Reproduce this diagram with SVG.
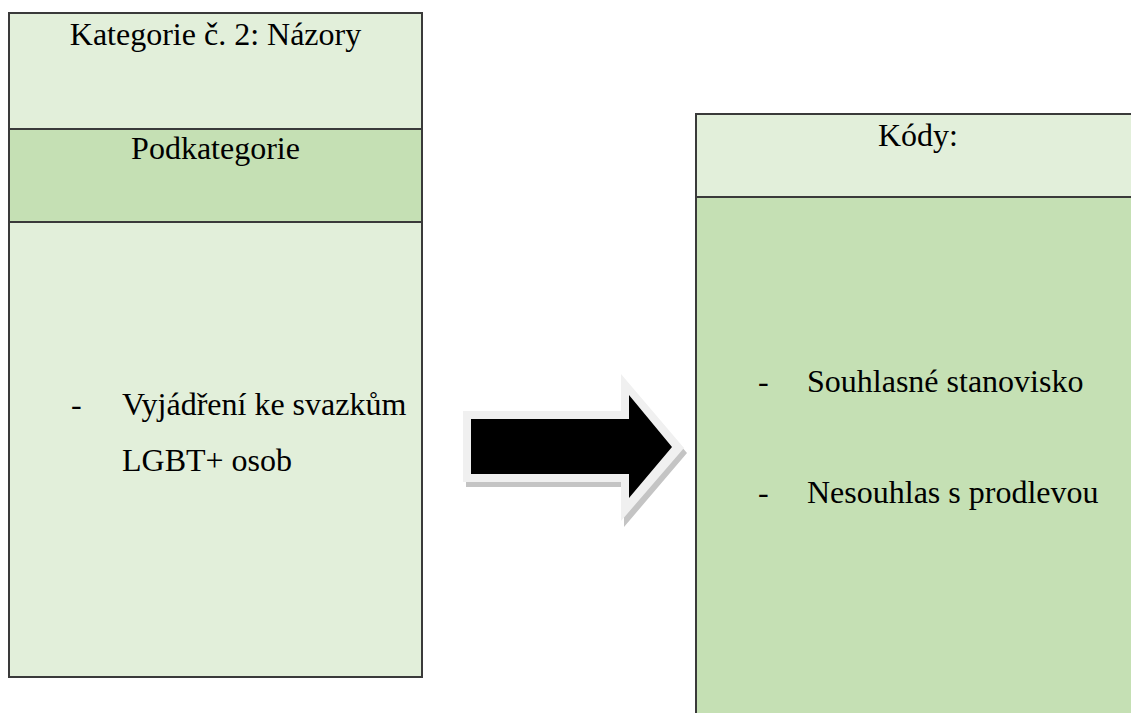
<svg xmlns="http://www.w3.org/2000/svg" width="1131" height="713" viewBox="0 0 1131 713">
<style>
.light{fill:#E2EFDA;stroke:#3a3a3a;stroke-width:2}
.mid{fill:#C5E0B4;stroke:#3a3a3a;stroke-width:2}
.t{font-family:"Liberation Serif","Times New Roman",serif;font-size:32px;fill:#000}
.c{text-anchor:middle}
</style>
<rect width="1131" height="713" fill="#fff"/>
<g id="left-box">
<rect class="light" x="9" y="13" width="413" height="116"/>
<rect class="mid" x="9" y="129" width="413" height="93"/>
<rect class="light" x="9" y="222" width="413" height="455"/>
<text class="t c" x="215.5" y="45">Kategorie č. 2: Názory</text>
<text class="t c" x="215.5" y="159">Podkategorie</text>
<text class="t" x="71" y="415">-</text>
<text class="t" x="122" y="415">Vyjádření ke svazkům</text>
<text class="t" x="122" y="471">LGBT+ osob</text>
</g>
<g id="connectors">
<polygon points="466,416 624,416 624,380 687,453 624,527 624,487 466,487" fill="#C4C4C4"/>
<polygon points="463,411 621,411 621,374 684,448 621,521 621,482 463,482" fill="#F0F0F0"/>
<polygon points="471,419 629,419 629,395 672,447 629,498 629,474 471,474" fill="#000"/>
</g>
<g id="right-box">
<rect class="light" x="696" y="114" width="450" height="83"/>
<rect class="mid" x="696" y="197" width="450" height="530"/>
<text class="t c" x="918" y="146">Kódy:</text>
<text class="t" x="758" y="392">-</text>
<text class="t" x="807" y="392">Souhlasné stanovisko</text>
<text class="t" x="758" y="503">-</text>
<text class="t" x="807" y="503">Nesouhlas s prodlevou</text>
</g>
</svg>
